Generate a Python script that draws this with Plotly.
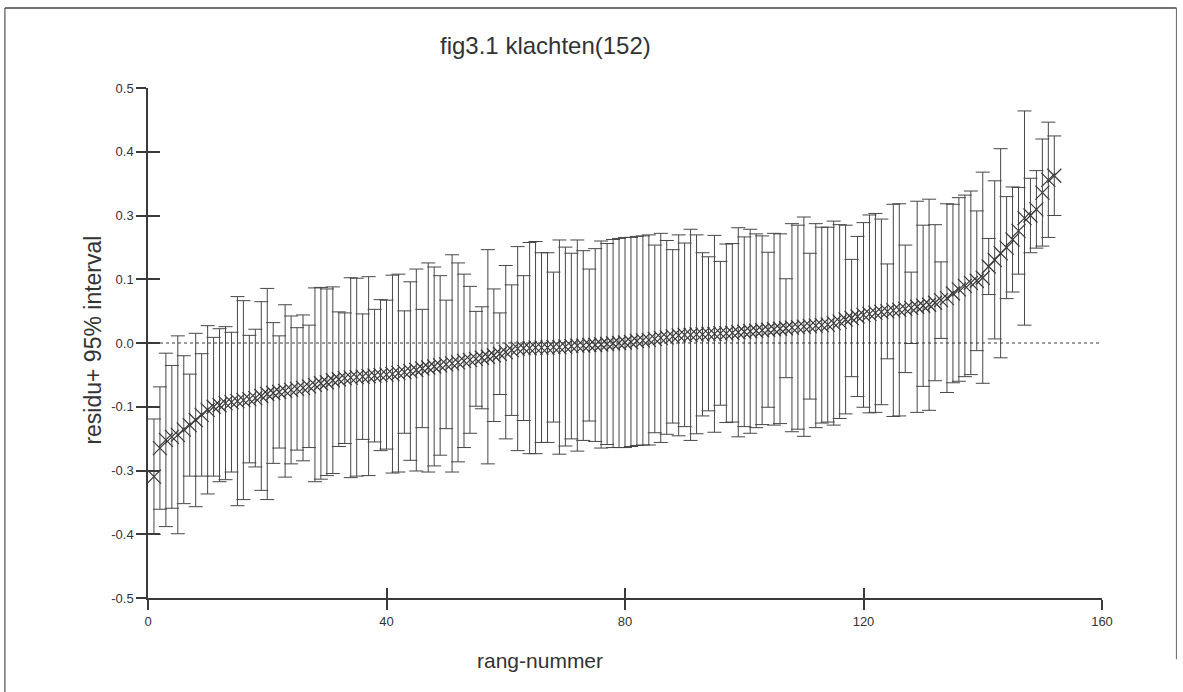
import plotly.graph_objects as go

# ---- data ----
rank = list(range(1, 153))

residu = [
    -0.262, -0.206, -0.190, -0.184, -0.180, -0.170, -0.161, -0.151, -0.141, -0.131,
    -0.125, -0.122, -0.118, -0.116, -0.114, -0.112, -0.110, -0.108, -0.104, -0.100,
    -0.098, -0.096, -0.094, -0.092, -0.090, -0.088, -0.085, -0.082, -0.079, -0.077,
    -0.073, -0.071, -0.069, -0.068, -0.067, -0.066, -0.065, -0.064, -0.063, -0.062,
    -0.061, -0.059, -0.057, -0.055, -0.053, -0.050, -0.048, -0.046, -0.044, -0.042,
    -0.040, -0.038, -0.035, -0.033, -0.031, -0.029, -0.027, -0.024, -0.021, -0.018,
    -0.014, -0.011, -0.010, -0.010, -0.009, -0.009, -0.009, -0.008, -0.008, -0.007,
    -0.006, -0.005, -0.005, -0.004, -0.004, -0.003, -0.002, -0.001, 0.000, 0.001,
    0.002, 0.004, 0.005, 0.006, 0.008, 0.010, 0.011, 0.013, 0.015, 0.016,
    0.016, 0.017, 0.017, 0.018, 0.018, 0.019, 0.019, 0.020, 0.021, 0.022,
    0.023, 0.024, 0.025, 0.026, 0.027, 0.028, 0.029, 0.030, 0.031, 0.032,
    0.033, 0.034, 0.035, 0.036, 0.039, 0.042, 0.046, 0.049, 0.052, 0.055,
    0.057, 0.059, 0.061, 0.062, 0.064, 0.065, 0.067, 0.069, 0.071, 0.073,
    0.075, 0.079, 0.084, 0.088, 0.097, 0.105, 0.112, 0.118, 0.122, 0.128,
    0.150, 0.163, 0.176, 0.187, 0.203, 0.220, 0.245, 0.250, 0.262, 0.295,
    0.320, 0.328,
]

halfwidth = [
    0.113, 0.120, 0.170, 0.140, 0.194, 0.145, 0.100, 0.170, 0.120, 0.165,
    0.136, 0.150, 0.150, 0.137, 0.205, 0.195, 0.125, 0.135, 0.185, 0.207,
    0.138, 0.110, 0.169, 0.145, 0.120, 0.143, 0.120, 0.190, 0.188, 0.183,
    0.183, 0.132, 0.128, 0.196, 0.194, 0.123, 0.195, 0.130, 0.148, 0.146,
    0.194, 0.194, 0.120, 0.175, 0.198, 0.116, 0.205, 0.195, 0.176, 0.126,
    0.213, 0.195, 0.170, 0.144, 0.093, 0.100, 0.210, 0.130, 0.080, 0.170,
    0.128, 0.200, 0.142, 0.207, 0.208, 0.186, 0.186, 0.147, 0.210, 0.195,
    0.182, 0.207, 0.186, 0.149, 0.189, 0.203, 0.197, 0.204, 0.205, 0.206,
    0.205, 0.205, 0.205, 0.206, 0.184, 0.205, 0.190, 0.170, 0.197, 0.180,
    0.207, 0.195, 0.160, 0.151, 0.193, 0.141, 0.175, 0.175, 0.205, 0.186,
    0.200, 0.190, 0.185, 0.152, 0.188, 0.186, 0.097, 0.204, 0.200, 0.215,
    0.143, 0.200, 0.192, 0.191, 0.200, 0.190, 0.185, 0.115, 0.157, 0.181,
    0.194, 0.195, 0.182, 0.093, 0.208, 0.208, 0.125, 0.070, 0.207, 0.158,
    0.207, 0.153, 0.075, 0.185, 0.175, 0.180, 0.178, 0.180, 0.137, 0.207,
    0.055, 0.155, 0.205, 0.100, 0.103, 0.085, 0.210, 0.073, 0.076, 0.105,
    0.113, 0.078,
]

x_tickvals = [0, 40, 80, 120, 160]
y_tickvals = [-0.5, -0.375, -0.25, -0.125, 0.0, 0.125, 0.25, 0.375, 0.5]
y_ticktext = ["-0.5", "-0.4", "-0.3", "-0.1", "0.0", "0.1", "0.3", "0.4", "0.5"]
reference_line_x = [0, 160]
reference_line_y = [0, 0]

title_text = "fig3.1 klachten(152)"
x_title = "rang-nummer"
y_title = "residu+ 95% interval"

# ---- styling ----
INK = "#3a3a3a"
FONT = "Liberation Sans, Arial, sans-serif"

fig = go.Figure()

fig.add_trace(go.Scatter(
    x=rank, y=residu, mode="markers",
    marker=dict(symbol="x-thin", size=14, line=dict(width=1.2, color=INK)),
    error_y=dict(type="data", array=halfwidth, visible=True,
                 color="#474747", thickness=1, width=7),
    showlegend=False, hoverinfo="x+y",
))

fig.add_trace(go.Scatter(
    x=reference_line_x, y=reference_line_y, mode="lines",
    line=dict(color=INK, width=1, dash="3px,3px"),
    xaxis="x2", yaxis="y2", showlegend=False, hoverinfo="skip",
))

axis_common = dict(showgrid=False, zeroline=False,
                   tickfont=dict(family=FONT, size=13, color="#333"))

fig.update_layout(
    width=1183, height=692, autosize=False,
    margin=dict(l=148, r=81, t=88, b=94, pad=0),
    paper_bgcolor="white", plot_bgcolor="white",
    xaxis=dict(range=[0, 160], tickmode="array", tickvals=x_tickvals,
               ticks="outside", ticklen=10, tickwidth=1.5, tickcolor=INK,
               showline=True, linecolor=INK, linewidth=2, **axis_common),
    yaxis=dict(range=[-0.5, 0.5], tickmode="array", tickvals=y_tickvals,
               ticktext=y_ticktext, ticks="outside", ticklen=10, tickwidth=1.5,
               tickcolor=INK, showline=True, linecolor=INK, linewidth=1.5,
               **axis_common),
    xaxis2=dict(range=[0, 160], overlaying="x", anchor="y2", side="bottom",
                tickmode="array", tickvals=x_tickvals, ticks="inside",
                ticklen=10, tickwidth=1.5, tickcolor=INK, showticklabels=False,
                showline=False, showgrid=False, zeroline=False),
    yaxis2=dict(range=[-0.5, 0.5], overlaying="y", anchor="x2", side="left",
                tickmode="array", tickvals=y_tickvals, ticks="inside",
                ticklen=12, tickwidth=2, tickcolor=INK, showticklabels=False,
                showline=False, showgrid=False, zeroline=False),
    annotations=[
        dict(text=title_text, xref="paper", yref="paper", x=0.417, y=1.084,
             xanchor="center", yanchor="middle", showarrow=False,
             font=dict(family=FONT, size=24, color="#333")),
        dict(text=x_title, xref="paper", yref="paper", x=0.411, y=-0.122,
             xanchor="center", yanchor="middle", showarrow=False,
             font=dict(family=FONT, size=21, color="#333")),
        dict(text=y_title, xref="paper", yref="paper", x=-0.058, y=0.506,
             xanchor="center", yanchor="middle", showarrow=False, textangle=-90,
             font=dict(family=FONT, size=23, color="#333")),
    ],
    shapes=[
        dict(type="line", xref="paper", yref="paper", x0=-0.150, x1=1.078,
             y0=1.157, y1=1.157, line=dict(color="#444", width=1.5)),
        dict(type="line", xref="paper", yref="paper", x0=-0.150, x1=-0.150,
             y0=1.157, y1=-0.19, line=dict(color="#555", width=1.2)),
        dict(type="line", xref="paper", yref="paper", x0=1.078, x1=1.078,
             y0=1.157, y1=-0.12, line=dict(color="#666", width=1)),
    ],
)

fig.write_html("out.html", config={"displayModeBar": False},
               post_script="document.body.style.margin='0';")
